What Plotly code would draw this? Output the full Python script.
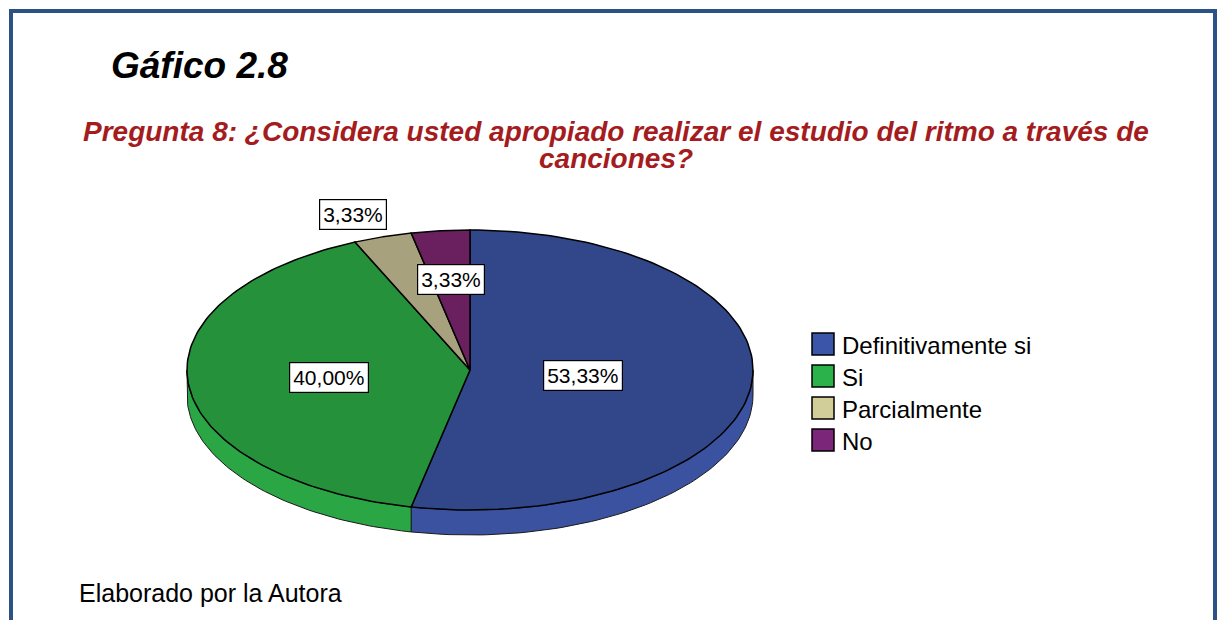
import numpy as np
import plotly.graph_objects as go

# ---- data ----
categories = ["Definitivamente si", "Si", "Parcialmente", "No"]
percentages = [53.33, 40.00, 3.33, 3.33]
value_labels = ["53,33%", "40,00%", "3,33%", "3,33%"]

# ---- style ----
top_colors = ["#31478a", "#25923b", "#a7a27d", "#6a1f5e"]
side_colors = ["#3a52a0", "#2aa744", "#b5b08a", "#7a2570"]
legend_colors = ["#3b55a8", "#2bb24b", "#d2ce9a", "#7b2679"]
label_radius = [0.40, 0.50, 1.17, 0.65]
label_xshift = [0, 0, -15, 0]

W, H = 1219, 620
cx, cy, rx, ry, depth = 470, 370, 283, 140, 25
FONT = "Liberation Sans, Arial, sans-serif"
LEG_X, LEG_Y0, LEG_DY, SW = 812, 344, 32, 22


def pt(phi_deg, f=1.0, dy=0.0):
    p = np.radians(phi_deg)
    return cx + f * rx * np.sin(p), cy - f * ry * np.cos(p) + dy


vals = np.array(percentages, dtype=float)
angles = np.concatenate([[0.0], np.cumsum(vals / vals.sum() * 360.0)])

fig = go.Figure()

# sides (front half only: 90..270 degrees clockwise from top)
for i in range(len(categories)):
    a, b = max(angles[i], 90.0), min(angles[i + 1], 270.0)
    if b <= a:
        continue
    phis = np.linspace(a, b, 80)
    xt, yt = pt(phis)
    xb, yb = pt(phis[::-1], dy=depth)
    xs = np.concatenate([xt, xb, [xt[0]]])
    ys = np.concatenate([yt, yb, [yt[0]]])
    fig.add_trace(go.Scatter(x=xs, y=ys, mode="lines", fill="toself",
                             fillcolor=side_colors[i],
                             line=dict(color="#1a1a1a", width=1),
                             hoverinfo="skip", showlegend=False))

# tops
for i in range(len(categories)):
    phis = np.linspace(angles[i], angles[i + 1], 120)
    xa, ya = pt(phis)
    xs = np.concatenate([[cx], xa, [cx]])
    ys = np.concatenate([[cy], ya, [cy]])
    fig.add_trace(go.Scatter(x=xs, y=ys, mode="lines", fill="toself",
                             fillcolor=top_colors[i],
                             line=dict(color="black", width=1.5),
                             name=categories[i], text=value_labels[i],
                             hoverinfo="name+text", showlegend=False))

# legend (drawn: swatch + label per category)
for i, c in enumerate(categories):
    yc = LEG_Y0 + i * LEG_DY
    fig.add_shape(type="rect", x0=LEG_X, x1=LEG_X + SW,
                  y0=yc - SW / 2, y1=yc + SW / 2,
                  fillcolor=legend_colors[i],
                  line=dict(color="black", width=1.5))
    fig.add_annotation(x=LEG_X + SW + 6, y=yc + 1, xanchor="left",
                       yanchor="middle", text=c, showarrow=False,
                       font=dict(family=FONT, size=24, color="black"))

# value labels
for i in range(len(categories)):
    mid = (angles[i] + angles[i + 1]) / 2
    lx, ly = pt(mid, f=label_radius[i])
    fig.add_annotation(x=lx, y=ly, text=value_labels[i], showarrow=False,
                       xshift=label_xshift[i],
                       font=dict(family=FONT, size=21, color="black"),
                       bgcolor="white", bordercolor="black", borderwidth=1.2,
                       borderpad=3)

# titles and note
fig.add_annotation(x=109, y=65, xanchor="left", yanchor="middle",
                   text="<b><i>Gáfico 2.8</i></b>", showarrow=False,
                   font=dict(family=FONT, size=37, color="black"))
fig.add_annotation(x=616, y=131, xanchor="center", yanchor="middle",
                   text="<b><i>Pregunta 8: ¿Considera usted apropiado realizar el estudio del ritmo a través de</i></b>",
                   showarrow=False,
                   font=dict(family=FONT, size=28, color="#a41c1e"))
fig.add_annotation(x=616, y=158, xanchor="center", yanchor="middle",
                   text="<b><i>canciones?</i></b>",
                   showarrow=False,
                   font=dict(family=FONT, size=28, color="#a41c1e"))
fig.add_annotation(x=77, y=593, xanchor="left", yanchor="middle",
                   text="Elaborado por la Autora", showarrow=False,
                   font=dict(family=FONT, size=25, color="black"))

# frame
fig.add_shape(type="rect", x0=11, x1=1215, y0=11, y1=700,
              line=dict(color="#2c5187", width=4), layer="above")

fig.update_layout(
    width=W, height=H, autosize=False,
    margin=dict(l=0, r=0, t=0, b=0),
    paper_bgcolor="white", plot_bgcolor="white",
    xaxis=dict(range=[0, W], visible=False, fixedrange=True),
    yaxis=dict(range=[H, 0], visible=False, fixedrange=True),
    showlegend=False,
)

fig.write_html("out.html")
